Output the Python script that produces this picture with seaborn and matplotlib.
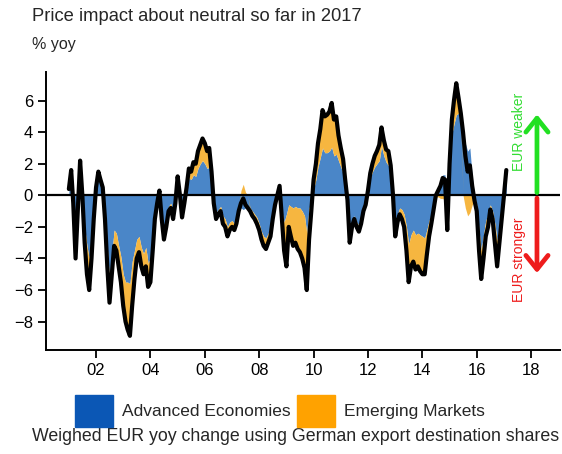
import numpy as np
import pandas as pd
import seaborn as sns
import matplotlib.pyplot as plt
from matplotlib.patches import Patch, FancyArrowPatch

# monthly, Jan 2001 - Feb 2017, % yoy contribution
adv = [0.4, 1.4, -0.2, -2.8, -0.6, 1.9, 0.0, -2.0, -3.2, -4.0, -2.5, -0.9,
       0.3, 1.1, 0.7, 0.4, -1.0, -3.3, -5.3, -3.7, -2.2, -2.4, -3.2, -3.9,
       -5.0, -5.5, -5.5, -5.6, -4.2, -3.5, -2.8, -2.6, -3.3, -3.7, -3.3, -4.3,
       -4.0, -2.5, -1.0, -0.3, 0.2, -1.1, -2.0, -1.4, -0.7, -0.5, -1.1, -0.4,
       0.8, 0.0, -1.1, -0.4, 0.2, 1.1, 1.0, 1.3, 1.2, 1.7, 2.0, 2.2,
       2.0, 1.7, 1.8, 0.9, -0.3, -1.1, -0.9, -0.7, -1.3, -1.5, -2.0, -1.7,
       -1.6, -1.8, -1.5, -0.9, -0.8, -0.9, -0.8, -0.8, -0.8, -1.0, -1.2, -1.4,
       -1.8, -2.3, -2.6, -2.7, -2.4, -2.1, -1.2, -0.6, -0.2, 0.2, -1.0, -1.7,
       -1.2, -0.6, -0.7, -0.8, -0.7, -0.8, -0.8, -1.0, -1.3, -2.4, -0.8, -0.4,
       0.4, 1.0, 1.8, 2.4, 3.0, 2.7, 2.7, 2.8, 3.05, 2.5, 2.6, 2.2,
       1.8, 1.4, 0.6, -0.4, -2.4, -1.6, -1.3, -1.7, -1.9, -1.5, -0.9, -0.7,
       0.2, 1.1, 1.5, 1.8, 2.0, 2.2, 3.1, 2.5, 2.1, 1.9, 1.4, 0.1,
       -1.8, -1.2, -0.8, -0.9, -1.2, -2.0, -3.1, -2.5, -2.2, -2.5, -2.4, -2.5,
       -2.6, -2.7, -2.2, -1.6, -1.2, -0.6, 0.1, 0.4, 0.8, 1.3, 1.3, -1.6,
       1.7, 3.9, 4.5, 5.1, 5.2, 4.6, 4.0, 3.3, 2.8, 3.0, 1.2, 0.0,
       -0.6, -2.2, -3.5, -2.5, -1.6, -1.2, -0.6, -1.0, -1.8, -2.9, -1.9, -1.0,
       0.0, 1.4]
emg = [0.0, 0.2, -0.3, -1.2, -0.4, 0.3, 0.0, -1.0, -1.8, -2.0, -1.5, -0.6,
       0.2, 0.4, 0.3, 0.1, -0.5, -1.2, -1.5, -1.3, -1.0, -1.1, -1.3, -1.6,
       -2.0, -2.5, -3.0, -3.3, -2.8, -1.8, -1.2, -1.0, -1.2, -1.3, -1.2, -1.5,
       -1.5, -1.0, -0.5, -0.2, 0.1, -0.4, -0.8, -0.6, -0.3, -0.3, -0.4, -0.1,
       0.4, 0.0, -0.3, -0.1, 0.3, 0.6, 0.5, 0.8, 0.8, 1.1, 1.2, 1.4,
       1.3, 1.1, 1.2, 0.6, -0.2, -0.4, -0.3, -0.3, -0.5, -0.5, -0.6, -0.5,
       -0.4, -0.4, -0.3, -0.1, 0.3, 0.7, 0.2, 0.0, -0.2, -0.3, -0.3, -0.4,
       -0.4, -0.5, -0.6, -0.7, -0.6, -0.5, -0.3, 0.0, 0.2, 0.4, -0.5, -1.8,
       -3.3, -1.4, -1.9, -2.4, -2.3, -2.6, -2.8, -3.0, -3.3, -3.6, -2.0, -0.6,
       0.6, 1.0, 1.5, 1.8, 2.4, 2.3, 2.4, 2.5, 2.8, 2.3, 2.4, 1.6,
       1.2, 0.9, 0.4, 0.1, -0.6, -0.4, -0.2, -0.3, -0.4, -0.3, -0.1, 0.1,
       0.1, 0.3, 0.5, 0.7, 0.8, 1.0, 1.2, 1.0, 0.8, 0.9, 0.5, 0.0,
       -0.8, -0.5, -0.4, -0.6, -0.8, -1.5, -2.4, -2.0, -2.0, -2.2, -2.1, -2.3,
       -2.4, -2.3, -1.6, -1.0, -0.6, -0.3, -0.1, -0.1, -0.2, -0.2, -0.3, -0.6,
       0.3, 0.9, 1.5, 2.0, 1.0, 0.6, 0.0, -0.8, -1.3, -1.1, -0.6, -0.3,
       -0.4, -1.3, -1.8, -1.5, -1.0, -0.8, -0.3, -0.5, -1.2, -1.6, -1.1, -0.5,
       0.0, 0.2]
start = "2001-01-01"
tick_years = list(range(2002, 2019, 2))
series_names = ["Advanced Economies", "Emerging Markets"]

df = pd.DataFrame({"date": pd.date_range(start, periods=len(adv), freq="MS"),
                   "adv": adv, "emg": emg})
df["total"] = df["adv"] + df["emg"]
# stack EM on top of AE when same sign, otherwise from zero
df["base"] = np.where(np.sign(df["emg"]) == np.sign(df["adv"]), df["adv"], 0.0)

sns.set_theme(style="ticks")
plt.rcParams["font.family"] = ["Liberation Sans", "DejaVu Sans"]

fig = plt.figure(figsize=(5.62, 4.54), dpi=100)
ax = fig.add_axes([0.082, 0.229, 0.914, 0.612])

blue_area = "#4a86c8"
orange_area = "#f6b640"
ax.fill_between(df["date"], 0, df["adv"], color=blue_area, lw=0)
ax.fill_between(df["date"], df["base"], df["base"] + df["emg"], color=orange_area, lw=0)
ax.axhline(0, color="black", lw=1.6, zorder=3)
sns.lineplot(data=df, x="date", y="total", color="black", lw=3.0, ax=ax, zorder=4)

ax.set_xlim(pd.Timestamp("2000-03-01"), pd.Timestamp("2019-01-20"))
ax.set_ylim(-9.8, 7.8)
ax.set_yticks(range(-8, 7, 2))
ax.set_xticks([pd.Timestamp(f"{y}-01-01") for y in tick_years])
ax.set_xticklabels([f"{y % 100:02d}" for y in tick_years])
ax.set_xlabel("")
ax.set_ylabel("")
ax.tick_params(axis="both", labelsize=12, length=6, width=1.3, color="black", labelcolor="black")
for s in ["top", "right"]:
    ax.spines[s].set_visible(False)
for s in ["left", "bottom"]:
    ax.spines[s].set_color("black")
    ax.spines[s].set_linewidth(1.4)

# direction arrows
ax_x = pd.Timestamp("2018-03-20")
ax.add_patch(FancyArrowPatch((ax_x, 0), (ax_x, 5.3), arrowstyle="->,head_length=0.5,head_width=0.4",
                             mutation_scale=20, color="#22e022", lw=3.4, zorder=5))
ax.add_patch(FancyArrowPatch((ax_x, 0), (ax_x, -5.1), arrowstyle="->,head_length=0.5,head_width=0.4",
                             mutation_scale=20, color="#ee1c1c", lw=3.4, zorder=5))
ax.text(pd.Timestamp("2017-07-15"), 4.0, "EUR weaker", rotation=90, color="#33dd33",
        fontsize=10, ha="center", va="center")
ax.text(pd.Timestamp("2017-07-15"), -4.1, "EUR stronger", rotation=90, color="#ee1c1c",
        fontsize=10, ha="center", va="center")

fig.text(0.057, 0.963, "Price impact about neutral so far in 2017", fontsize=13.2, va="center")
fig.text(0.057, 0.901, "% yoy", fontsize=11.5, va="center")

handles = [Patch(color="#0b57b5"), Patch(color="#ffa200")]
fig.legend(handles, series_names, loc="center left", bbox_to_anchor=(0.133, 0.095), ncol=2,
           frameon=False, fontsize=12.5, handlelength=2.2, handleheight=2.5,
           handletextpad=0.5, columnspacing=0.4, borderaxespad=0, borderpad=0)
fig.text(0.057, 0.0375, "Weighed EUR yoy change using German export destination shares",
         fontsize=12.8, va="center")

fig.savefig("out.png", dpi=100)
